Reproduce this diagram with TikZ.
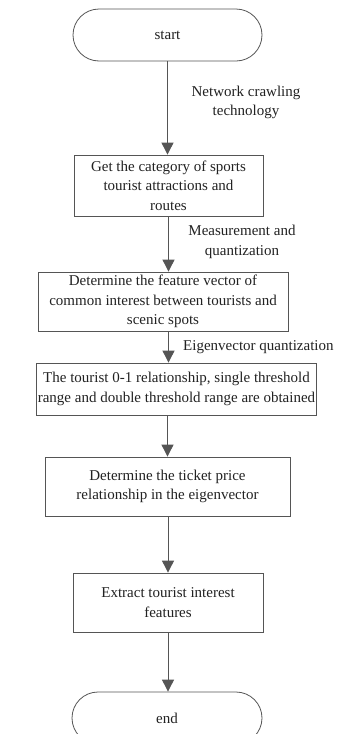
\documentclass[tikz,border=0pt]{standalone}
\usepackage{fontspec}
\setmainfont{Liberation Serif}
\usetikzlibrary{arrows.meta}
\definecolor{linegray}{HTML}{555555}
\definecolor{txt}{HTML}{222222}
\tikzset{
  every node/.style={font=\fontsize{15}{19.5}\selectfont, text=txt},
  proc/.style={draw=linegray, line width=0.8pt, align=center, inner sep=1pt},
  term/.style={draw=linegray, line width=0.8pt, rounded corners=26pt, align=center},
  flow/.style={draw=linegray, line width=0.9pt, -{Triangle[width=12pt,length=12pt]}, color=linegray},
  lbl/.style={align=center, inner sep=0pt}
}
\begin{document}
\begin{tikzpicture}[x=1pt,y=-1pt]
\useasboundingbox (0,0) rectangle (345,734);
\clip (0,0) rectangle (345,734);
\fill[white] (0,0) rectangle (345,734);
\node[term, minimum width=189pt, minimum height=52pt] (start) at (167.5,35) {start};
\node[proc, minimum width=189pt, minimum height=61pt] (b1) at (168.5,185.5) {Get the category of sports\\tourist attractions and\\routes};
\node[proc, minimum width=250pt, minimum height=59pt] (b2) at (163,301.5) {Determine the feature vector of\\common interest between tourists and\\scenic spots};
\node[proc, minimum width=277pt, minimum height=52pt] (b3) at (176.5,389) {The tourist 0-1 relationship, single threshold\\range and double threshold range are obtained};
\node[proc, minimum width=245pt, minimum height=59pt] (b4) at (167.5,486.5) {Determine the ticket price\\relationship in the eigenvector};
\node[proc, minimum width=190pt, minimum height=59pt] (b5) at (168,602.5) {Extract tourist interest\\features};
\node[term, minimum width=190pt, minimum height=52pt] (end) at (167,718) {end};
\node[lbl] (l1) at (246,102.5) {Network crawling\\technology};
\node[lbl] (l2) at (242,242) {Measurement and\\quantization};
\node[lbl, anchor=west] (l3) at (183,347) {Eigenvector quantization};
\draw[flow] (start.south) -- (start.south |- b1.north);
\draw[flow] (b1.south) -- (b1.south |- b2.north);
\draw[flow] (b1.south |- b2.south) -- (b1.south |- b3.north);
\draw[flow] (b4.north |- b3.south) -- (b4.north);
\draw[flow] (b5.north |- b4.south) -- (b5.north);
\draw[flow] (b5.south) -- (b5.south |- end.north);
\end{tikzpicture}
\end{document}
